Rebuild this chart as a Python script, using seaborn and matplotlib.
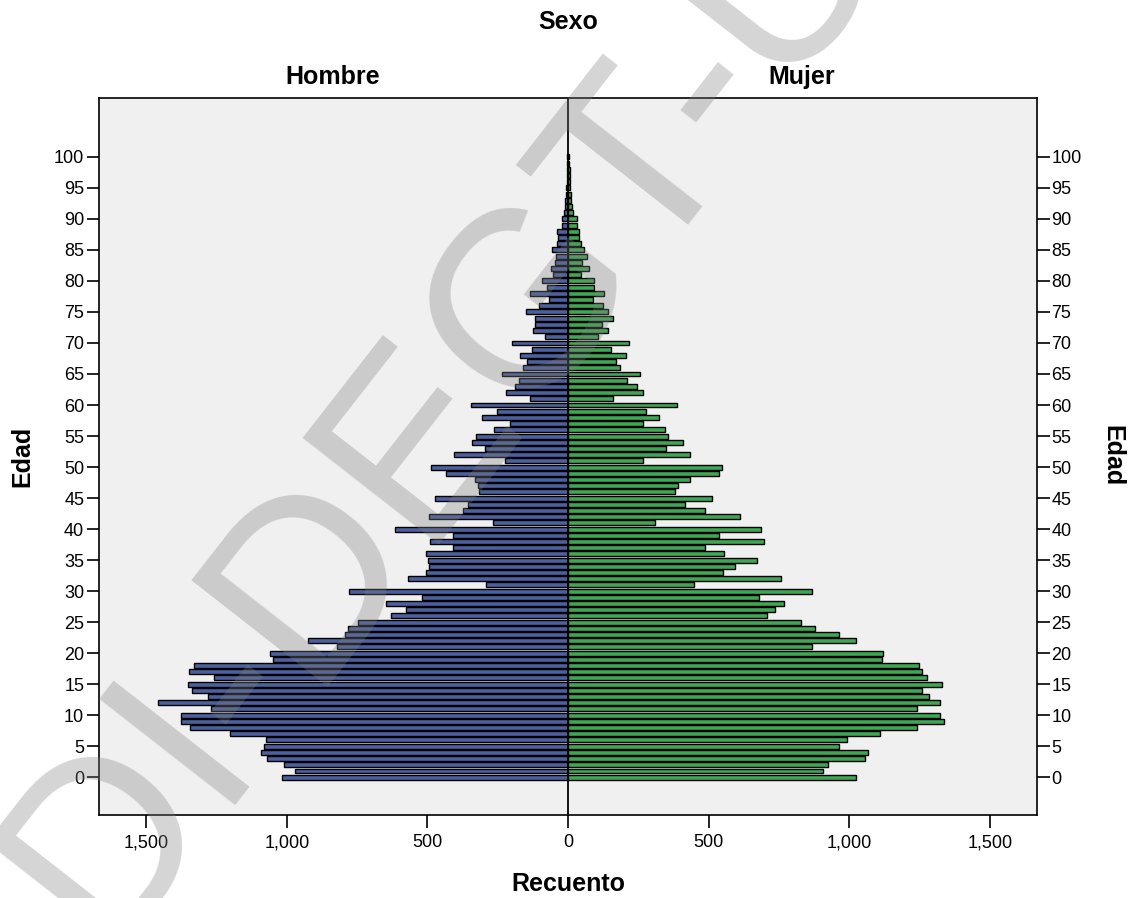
import matplotlib
matplotlib.use("Agg")
import matplotlib.pyplot as plt
import seaborn as sns
import pandas as pd

# Edad 0..100, recuento por sexo
edades = list(range(0, 101))
hombres = [1019, 970, 1011, 1072, 1091, 1081, 1076, 1202, 1343, 1375,
           1376, 1270, 1458, 1281, 1338, 1352, 1259, 1349, 1332, 1049,
           1059, 822, 925, 792, 782, 746, 631, 575, 647, 519,
           780, 292, 568, 504, 495, 499, 505, 411, 491, 410,
           616, 267, 494, 375, 356, 474, 318, 320, 331, 435,
           488, 223, 405, 295, 340, 328, 264, 205, 305, 254,
           347, 135, 219, 188, 175, 235, 159, 147, 171, 129,
           198, 83, 126, 118, 116, 150, 102, 69, 134, 74,
           91, 52, 59, 47, 43, 56, 39, 35, 38, 20,
           23, 14, 10, 10, 9, 6, 5, 4, 4, 3, 3]
mujeres = [1024, 907, 925, 1056, 1066, 965, 991, 1111, 1240, 1337,
           1323, 1240, 1324, 1285, 1257, 1330, 1275, 1259, 1248, 1115,
           1120, 867, 1024, 964, 878, 829, 707, 737, 769, 678,
           867, 448, 757, 550, 594, 671, 556, 487, 698, 538,
           685, 309, 612, 487, 416, 513, 380, 392, 434, 538,
           547, 268, 434, 349, 410, 357, 343, 266, 324, 276,
           388, 159, 265, 244, 211, 255, 186, 170, 207, 154,
           215, 106, 143, 120, 158, 141, 124, 90, 128, 91,
           92, 47, 73, 51, 66, 56, 47, 40, 40, 32,
           32, 19, 14, 11, 12, 8, 7, 6, 6, 5, 5]
sexos = ["Hombre", "Mujer"]
colores = {"Hombre": "#3e58ac", "Mujer": "#2eb848"}
x_ticks = [-1500, -1000, -500, 0, 500, 1000, 1500]
x_labels = ["1,500", "1,000", "500", "0", "500", "1,000", "1,500"]
y_ticks = list(range(0, 101, 5))

df = pd.DataFrame({
    "Edad": edades * 2,
    "Sexo": [sexos[0]] * len(edades) + [sexos[1]] * len(edades),
    "Recuento": [-v for v in hombres] + mujeres,
})

sns.set_style("white")
plt.rcParams["font.family"] = ["Liberation Sans", "DejaVu Sans"]
plt.rcParams["text.color"] = "black"

fig = plt.figure(figsize=(11.3, 8.98), dpi=100)
ax = fig.add_axes([0.0874, 0.0924, 0.8299, 0.7985])
sns.barplot(data=df, x="Recuento", y="Edad", hue="Sexo", orient="h",
            native_scale=True, dodge=False, palette=colores, width=0.8,
            edgecolor="black", linewidth=1, errorbar=None, legend=False, ax=ax)

ax.set_facecolor("#f0f0f0")
ax.axvline(0, color="black", lw=1.3, zorder=5)
ax.set_xlim(-1669, 1666)
ax.set_ylim(-6.1, 109.5)
ax.set_xticks(x_ticks, x_labels)
ax.set_yticks(y_ticks, [str(t) for t in y_ticks])
ax.tick_params(axis="both", direction="out", length=9, width=1.2,
               color="black", labelsize=13, labelcolor="black")
ax.tick_params(axis="y", left=True, right=True, labelleft=True,
               labelright=True, pad=1.5)
ax.tick_params(axis="x", bottom=True, pad=5)
ax.set_xlabel("")
ax.set_ylabel("")
for s in ax.spines.values():
    s.set_color("black")
    s.set_linewidth(1.2)

W, H = 1130, 898
def at(x, y):
    return x / W, 1 - y / H

bold = dict(fontsize=18, fontweight="bold", ha="center", va="center",
            color="black")
fig.text(*at(568, 22), "Sexo", **bold)
fig.text(*at(333, 77), "Hombre", **bold)
fig.text(*at(802, 77), "Mujer", **bold)
fig.text(*at(568, 884), "Recuento", **bold)
fig.text(*at(22, 456), "Edad", rotation=90, **bold)
fig.text(*at(1112, 456), "Edad", rotation=270, **bold)

# marca de agua
fig.text(*at(445, 405), "DI-DEGT-U", rotation=52, fontsize=180,
         fontweight="normal", color="#808080", alpha=0.33,
         ha="center", va="center", zorder=10)

fig.savefig("out.png", dpi=100)
